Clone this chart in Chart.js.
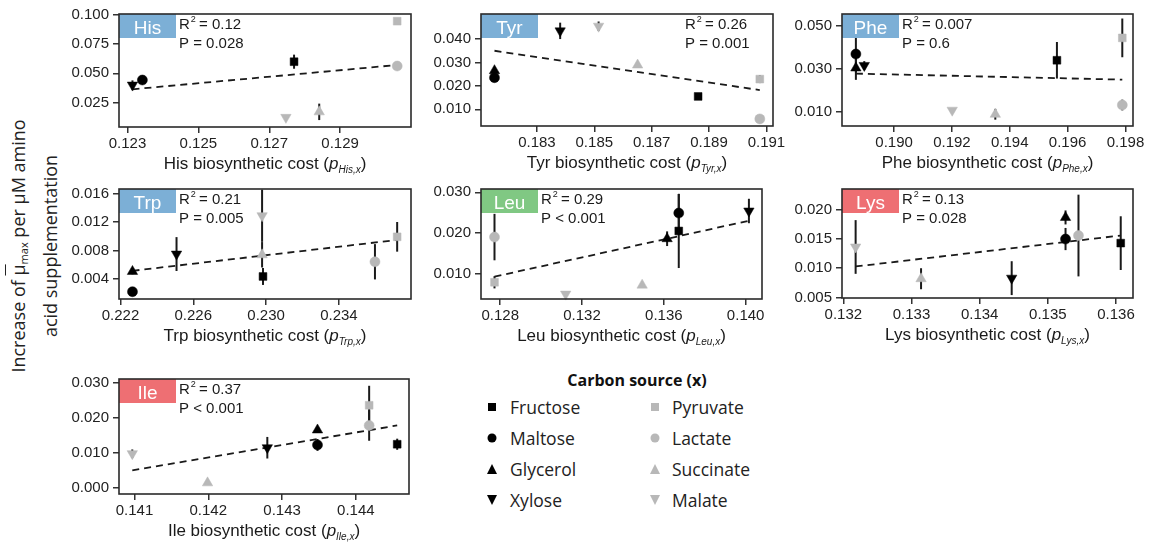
<!DOCTYPE html>
<html>
<head>
<meta charset="utf-8">
<script src="https://cdn.jsdelivr.net/npm/chart.js@4.4.0/dist/chart.umd.min.js"></script>
<style>
  body { margin: 0; background: #fff; width: 1161px; height: 545px; position: relative; overflow: hidden; }
  canvas { position: absolute; }
  #ylab { position: absolute; left: 34px; top: 246px; transform: translate(-50%, -50%) rotate(-90deg);
          white-space: nowrap; text-align: center; font: 18px "Open Sans"; line-height: 26px; color: #222; }
  #ylab sub { font-size: 11px; vertical-align: -3px; }
  .lg { position: absolute; font: 17.5px "Open Sans"; color: #222; transform: translateY(-50%); white-space: nowrap; }
  #lgTitle { position: absolute; left: 637px; top: 380px; transform: translate(-50%, -50%); font: bold 16px "Open Sans"; color: #111; white-space: nowrap; }
  .sym { position: absolute; transform: translate(-50%, -50%); }
</style>
</head>
<body>
<div id="ylab">Increase of <span style="text-decoration:overline">μ</span><sub>max</sub> per μM amino<br>acid supplementation</div>
<div id="lgTitle">Carbon source (x)</div>
<script>
// carbon sources (index used in the *Src arrays below)
const sources = [ 'Fructose', 'Maltose', 'Glycerol', 'Xylose', 'Pyruvate', 'Lactate', 'Succinate', 'Malate' ];

// His
const hisSrc  = [ 3, 1, 0, 7, 6, 5, 4 ];
const hisCost = [ 0.12314, 0.12342, 0.12770, 0.12747, 0.12841, 0.13061, 0.13061 ];
const hisInc  = [ 0.0400, 0.0443, 0.0599, 0.0125, 0.0172, 0.0562, 0.0944 ];
const hisErr  = [ 0.0040, 0.0020, 0.0060, 0.0010, 0.0070, 0.0030, 0.0010 ];
const hisFit  = [ [ 0.12314, 0.0364 ], [ 0.13061, 0.0571 ] ];
const hisXTicks = [ 0.123, 0.125, 0.127, 0.129 ];
const hisYTicks = [ 0.025, 0.050, 0.075, 0.100 ];
const hisStats = [ '0.12', '= 0.028' ];

// Tyr
const tyrSrc  = [ 3, 7, 2, 1, 6, 0, 4, 5 ];
const tyrCost = [ 0.18381, 0.18515, 0.18152, 0.18152, 0.18651, 0.18862, 0.19077, 0.19077 ];
const tyrInc  = [ 0.0435, 0.0455, 0.0265, 0.0235, 0.0289, 0.0155, 0.0229, 0.0059 ];
const tyrErr  = [ 0.0035, 0.0020, 0.0015, 0.0010, 0.0010, 0.0008, 0.0017, 0.0005 ];
const tyrFit  = [ [ 0.18152, 0.0350 ], [ 0.19077, 0.0182 ] ];
const tyrXTicks = [ 0.183, 0.185, 0.187, 0.189, 0.191 ];
const tyrYTicks = [ 0.010, 0.020, 0.030, 0.040 ];
const tyrStats = [ '0.26', '= 0.001' ];

// Phe
const pheSrc  = [ 1, 2, 3, 7, 6, 0, 4, 5 ];
const pheCost = [ 0.18868, 0.18868, 0.18897, 0.19201, 0.19350, 0.19563, 0.19789, 0.19789 ];
const pheInc  = [ 0.0368, 0.0303, 0.0315, 0.0107, 0.0088, 0.0339, 0.0443, 0.0131 ];
const pheErr  = [ 0.0085, 0.0055, 0.0020, 0.0005, 0.0025, 0.0085, 0.0090, 0.0025 ];
const pheFit  = [ [ 0.18868, 0.0277 ], [ 0.19789, 0.0249 ] ];
const pheXTicks = [ 0.190, 0.192, 0.194, 0.196, 0.198 ];
const pheYTicks = [ 0.010, 0.030, 0.050 ];
const pheStats = [ '0.007', '= 0.6' ];

// Trp
const trpSrc  = [ 1, 2, 3, 7, 6, 0, 5, 4 ];
const trpCost = [ 0.22266, 0.22266, 0.22508, 0.22978, 0.22978, 0.22983, 0.23598, 0.23720 ];
const trpInc  = [ 0.00216, 0.00503, 0.00749, 0.01292, 0.00739, 0.00432, 0.00640, 0.00993 ];
const trpErr  = [ 0.0003, 0.0004, 0.0024, 0.0037, 0.0018, 0.0012, 0.0025, 0.0021 ];
const trpFit  = [ [ 0.22266, 0.00512 ], [ 0.23720, 0.00949 ] ];
const trpXTicks = [ 0.222, 0.226, 0.230, 0.234 ];
const trpYTicks = [ 0.004, 0.008, 0.012, 0.016 ];
const trpStats = [ '0.21', '= 0.005' ];

// Leu
const leuSrc  = [ 5, 4, 7, 6, 2, 1, 0, 3 ];
const leuCost = [ 0.12772, 0.12772, 0.13120, 0.13494, 0.13616, 0.13673, 0.13673, 0.14016 ];
const leuInc  = [ 0.0190, 0.0079, 0.0050, 0.0072, 0.0186, 0.0249, 0.0205, 0.0254 ];
const leuErr  = [ 0.0057, 0.0015, 0.0003, 0.0005, 0.0018, 0.0047, 0.0091, 0.0030 ];
const leuFit  = [ [ 0.12772, 0.0093 ], [ 0.14016, 0.0230 ] ];
const leuXTicks = [ 0.128, 0.132, 0.136, 0.140 ];
const leuYTicks = [ 0.010, 0.020, 0.030 ];
const leuStats = [ '0.29', '< 0.001' ];

// Lys
const lysSrc  = [ 7, 6, 3, 2, 1, 5, 0 ];
const lysCost = [ 0.13218, 0.13314, 0.13447, 0.13526, 0.13526, 0.13545, 0.13607 ];
const lysInc  = [ 0.01364, 0.0082, 0.0083, 0.0187, 0.0150, 0.0156, 0.0143 ];
const lysErr  = [ 0.0046, 0.0018, 0.0029, 0.0012, 0.0019, 0.0070, 0.0046 ];
const lysFit  = [ [ 0.13218, 0.0103 ], [ 0.13607, 0.0156 ] ];
const lysXTicks = [ 0.132, 0.133, 0.134, 0.135, 0.136 ];
const lysYTicks = [ 0.005, 0.010, 0.015, 0.020 ];
const lysStats = [ '0.13', '= 0.028' ];

// Ile
const ileSrc  = [ 7, 6, 3, 2, 1, 4, 5, 0 ];
const ileCost = [ 0.14097, 0.14199, 0.14280, 0.14348, 0.14348, 0.14418, 0.14418, 0.14456 ];
const ileInc  = [ 0.0097, 0.0013, 0.0114, 0.0165, 0.0122, 0.0236, 0.0178, 0.0124 ];
const ileErr  = [ 0.0012, 0.0003, 0.0031, 0.0008, 0.0017, 0.0056, 0.0044, 0.0016 ];
const ileFit  = [ [ 0.14097, 0.0049 ], [ 0.14456, 0.0178 ] ];
const ileXTicks = [ 0.141, 0.142, 0.143, 0.144 ];
const ileYTicks = [ 0.000, 0.010, 0.020, 0.030 ];
const ileStats = [ '0.37', '< 0.001' ];

// marker look per source
const BLACK = '#000', GREY = '#b8b8b8';
const shapes = [ 'rect', 'circle', 'triangle', 'triangle', 'rect', 'circle', 'triangle', 'triangle' ];
const rots   = [ 0, 0, 0, 180, 0, 0, 0, 180 ];
const radii  = [ 5.5, 5, 6, 6, 5.5, 5, 6, 6 ];
const cols   = [ BLACK, BLACK, BLACK, BLACK, GREY, GREY, GREY, GREY ];

const FONT = '"Liberation Sans", Arial, sans-serif';

// error bars (always dark) under the markers
const errorBars = {
    id: 'errorBars',
    beforeDatasetsDraw( chart ) {
        const { ctx, scales: { x, y } } = chart;
        ctx.save();
        ctx.lineWidth = 2;
        ctx.strokeStyle = '#1a1a1a';
        chart.data.datasets.forEach( ds => {
            if ( !ds.errBar ) return;
            ds.data.forEach( p => {
                const px = x.getPixelForValue( p.x );
                ctx.beginPath();
                ctx.moveTo( px, y.getPixelForValue( p.y - p.e ) );
                ctx.lineTo( px, y.getPixelForValue( p.y + p.e ) );
                ctx.stroke();
            });
        });
        ctx.restore();
    }
};

function panel( o ) {
    const [ L, T, R, B ] = o.box;
    const padL = 80, padT = 12, padR = 26, padB = 56;
    const w = R - L + padL + padR, h = B - T + padT + padB;
    const cv = document.createElement( 'canvas' );
    cv.width = w; cv.height = h;
    cv.style.left = ( L - padL ) + 'px';
    cv.style.top = ( T - padT ) + 'px';
    cv.style.width = w + 'px';
    cv.style.height = h + 'px';
    document.body.appendChild( cv );

    const datasets = [];
    sources.forEach( ( s, k ) => {
        const pts = [];
        o.src.forEach( ( v, i ) => { if ( v === k ) pts.push( { x: o.x[ i ], y: o.y[ i ], e: o.err[ i ] } ); } );
        if ( !pts.length ) return;
        datasets.push( {
            label: s, data: pts, errBar: true,
            pointStyle: shapes[ k ], pointRotation: rots[ k ], pointRadius: radii[ k ],
            pointBackgroundColor: cols[ k ], pointBorderColor: cols[ k ], pointBorderWidth: 0.5,
            clip: false
        });
    });
    // trend line, drawn under the markers
    datasets.push( {
        label: 'fit', data: o.fit.map( p => ( { x: p[ 0 ], y: p[ 1 ] } ) ),
        showLine: true, pointRadius: 0, borderColor: '#1a1a1a', borderWidth: 1.8, borderDash: [ 7, 5 ], clip: false
    });

    const decor = {
        id: 'decor',
        afterDraw( chart ) {
            const a = chart.chartArea, ctx = chart.ctx;
            ctx.save();
            // name tag
            ctx.fillStyle = o.color;
            ctx.fillRect( a.left, a.top, 57, 24 );
            ctx.fillStyle = '#fff';
            ctx.font = '19px ' + FONT;
            ctx.textAlign = 'center';
            ctx.textBaseline = 'alphabetic';
            ctx.fillText( o.name, a.left + 28.5, a.top + 19.5 );
            // frame
            ctx.strokeStyle = '#2a2a2a';
            ctx.lineWidth = 1.6;
            ctx.strokeRect( a.left, a.top, a.right - a.left, a.bottom - a.top );
            // stats
            const sx = o.statsRight ? a.right - 88 : a.left + 60;
            ctx.textAlign = 'left';
            ctx.fillStyle = '#1a1a1a';
            ctx.font = '15px ' + FONT;
            ctx.fillText( 'R', sx, a.top + 15 );
            const rw = ctx.measureText( 'R' ).width;
            ctx.font = '9px ' + FONT;
            ctx.fillText( '2', sx + rw + 1, a.top + 8 );
            ctx.font = '15px ' + FONT;
            ctx.fillText( ' = ' + o.stats[ 0 ], sx + rw + 5, a.top + 15 );
            ctx.fillText( 'P ' + o.stats[ 1 ], sx, a.top + 33.5 );
            // axis title with italic subscript
            const parts = [
                { t: o.name + ' biosynthetic cost (', f: '17px ' + FONT, dy: 0 },
                { t: 'p', f: 'italic 17px ' + FONT, dy: 0 },
                { t: o.name + ',x', f: 'italic 10px ' + FONT, dy: 4 },
                { t: ')', f: '17px ' + FONT, dy: 0 }
            ];
            let tot = 0;
            parts.forEach( p => { ctx.font = p.f; p.w = ctx.measureText( p.t ).width; tot += p.w; } );
            let cx = ( a.left + a.right ) / 2 - tot / 2;
            const by = a.bottom + 42;
            parts.forEach( p => { ctx.font = p.f; ctx.fillText( p.t, cx, by + p.dy ); cx += p.w; } );
            ctx.restore();
        }
    };

    const tickFont = { family: FONT, size: 15 };
    new Chart( cv, {
        type: 'scatter',
        data: { datasets: datasets },
        options: {
            responsive: false,
            animation: false,
            devicePixelRatio: 1,
            layout: { padding: { left: 0, top: padT, right: padR, bottom: 0 } },
            plugins: { legend: { display: false }, tooltip: { enabled: false } },
            scales: {
                x: {
                    type: 'linear', min: o.xr[ 0 ], max: o.xr[ 1 ],
                    afterBuildTicks: s => { s.ticks = o.xt.map( v => ( { value: v } ) ); },
                    afterFit: s => { s.height = padB; s.paddingLeft = 0; s.paddingRight = 0; },
                    ticks: { font: tickFont, color: '#222', padding: 2, maxRotation: 0, autoSkip: false, callback: v => v.toFixed( 3 ) },
                    grid: { drawOnChartArea: false, drawTicks: true, tickLength: 6, color: '#333', lineWidth: 1.5 },
                    border: { display: false }
                },
                y: {
                    type: 'linear', min: o.yr[ 0 ], max: o.yr[ 1 ],
                    afterBuildTicks: s => { s.ticks = o.yt.map( v => ( { value: v } ) ); },
                    afterFit: s => { s.width = padL; s.paddingTop = 0; s.paddingBottom = 0; },
                    ticks: { font: tickFont, color: '#222', padding: 4, autoSkip: false, callback: v => v.toFixed( 3 ) },
                    grid: { drawOnChartArea: false, drawTicks: true, tickLength: 6, color: '#333', lineWidth: 1.5 },
                    border: { display: false }
                }
            }
        },
        plugins: [ errorBars, decor ]
    });
}

const BLUE = '#7cafd6', GREEN = '#80c883', RED = '#ee6f73';

panel( { name: 'His', color: BLUE, box: [ 119, 14, 411, 127 ], xr: [ 0.12276, 0.131 ], yr: [ 0.0043, 0.1005 ],
         src: hisSrc, x: hisCost, y: hisInc, err: hisErr, fit: hisFit, xt: hisXTicks, yt: hisYTicks, stats: hisStats } );
panel( { name: 'Tyr', color: BLUE, box: [ 481, 14, 773, 126 ], xr: [ 0.18105, 0.19123 ], yr: [ 0.00287, 0.0507 ], statsRight: true,
         src: tyrSrc, x: tyrCost, y: tyrInc, err: tyrErr, fit: tyrFit, xt: tyrXTicks, yt: tyrYTicks, stats: tyrStats } );
panel( { name: 'Phe', color: BLUE, box: [ 842, 14, 1133, 126 ], xr: [ 0.18820, 0.19826 ], yr: [ 0.00335, 0.0554 ],
         src: pheSrc, x: pheCost, y: pheInc, err: pheErr, fit: pheFit, xt: pheXTicks, yt: pheYTicks, stats: pheStats } );
panel( { name: 'Trp', color: BLUE, box: [ 119, 189, 411, 299 ], xr: [ 0.22192, 0.23796 ], yr: [ 0.00113, 0.0167 ],
         src: trpSrc, x: trpCost, y: trpInc, err: trpErr, fit: trpFit, xt: trpXTicks, yt: trpYTicks, stats: trpStats } );
panel( { name: 'Leu', color: GREEN, box: [ 481, 189, 762, 299 ], xr: [ 0.12706, 0.14080 ], yr: [ 0.0038, 0.0308 ],
         src: leuSrc, x: leuCost, y: leuInc, err: leuErr, fit: leuFit, xt: leuXTicks, yt: leuYTicks, stats: leuStats } );
panel( { name: 'Lys', color: RED, box: [ 842, 189, 1133, 298 ], xr: [ 0.13198, 0.13625 ], yr: [ 0.0049, 0.02357 ],
         src: lysSrc, x: lysCost, y: lysInc, err: lysErr, fit: lysFit, xt: lysXTicks, yt: lysYTicks, stats: lysStats } );
panel( { name: 'Ile', color: RED, box: [ 119, 379, 409, 494 ], xr: [ 0.14079, 0.14472 ], yr: [ -0.0019, 0.03115 ],
         src: ileSrc, x: ileCost, y: ileInc, err: ileErr, fit: ileFit, xt: ileXTicks, yt: ileYTicks, stats: ileStats } );

// shared legend, two columns
const lgRows = [ 407, 438, 469, 500 ];
sources.forEach( ( s, k ) => {
    const col = k < 4 ? 0 : 1;
    const y = lgRows[ k % 4 ];
    const symX = col ? 655 : 492, txtX = col ? 672 : 510;
    const sym = document.createElement( 'div' );
    sym.className = 'sym';
    sym.style.left = symX + 'px';
    sym.style.top = y + 'px';
    if ( shapes[ k ] === 'rect' ) {
        sym.style.width = '8px'; sym.style.height = '8px'; sym.style.background = cols[ k ];
    } else if ( shapes[ k ] === 'circle' ) {
        sym.style.width = '9px'; sym.style.height = '9px'; sym.style.borderRadius = '50%'; sym.style.background = cols[ k ];
    } else {
        sym.style.width = '0'; sym.style.height = '0';
        sym.style.borderLeft = '5.5px solid transparent';
        sym.style.borderRight = '5.5px solid transparent';
        if ( rots[ k ] ) sym.style.borderTop = '10px solid ' + cols[ k ];
        else sym.style.borderBottom = '10px solid ' + cols[ k ];
    }
    document.body.appendChild( sym );
    const t = document.createElement( 'div' );
    t.className = 'lg';
    t.style.left = txtX + 'px';
    t.style.top = y + 'px';
    t.textContent = s;
    document.body.appendChild( t );
});
</script>
</body>
</html>
